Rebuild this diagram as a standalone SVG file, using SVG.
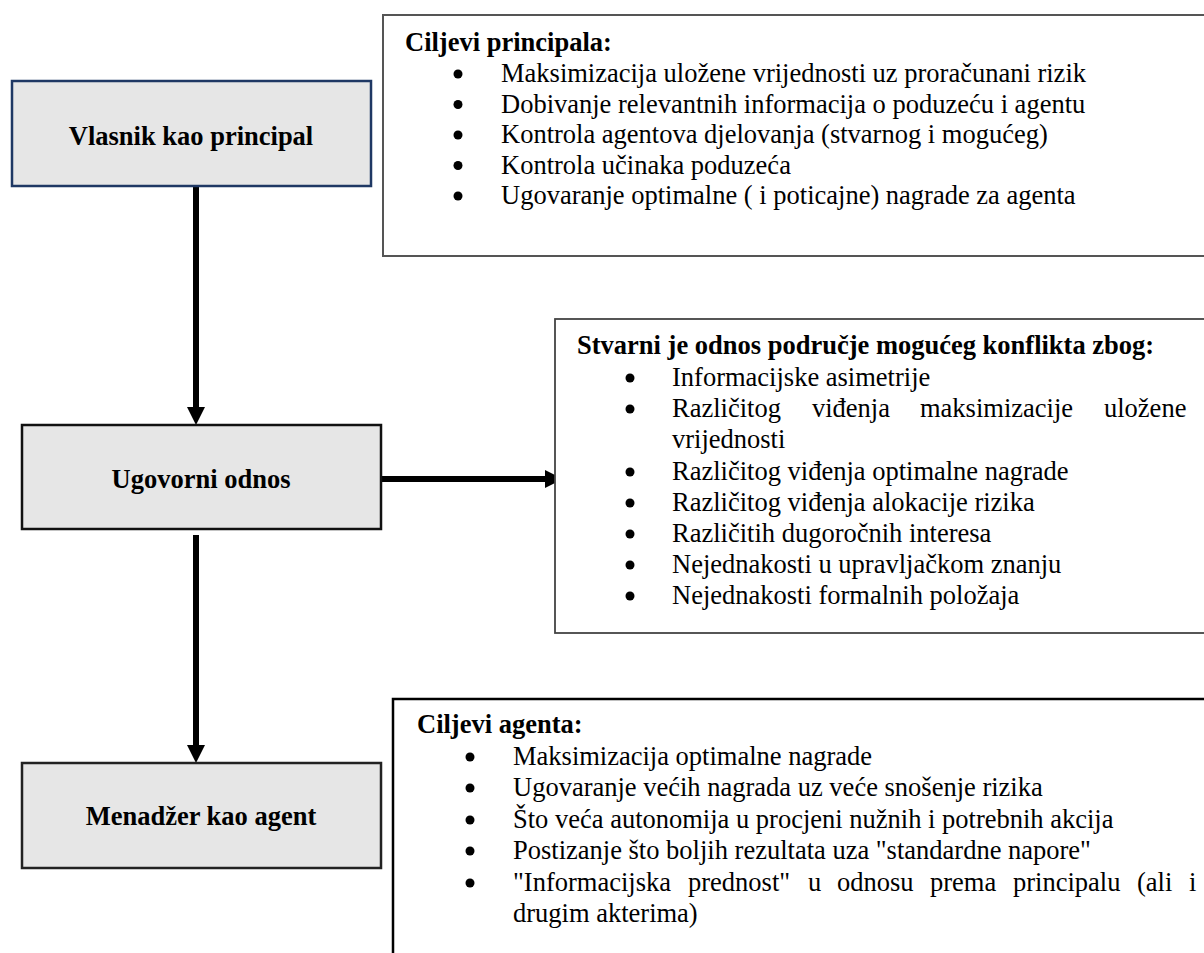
<svg xmlns="http://www.w3.org/2000/svg" width="1204" height="953" viewBox="0 0 1204 953">
<defs>
<style>
.t{font-family:"Liberation Serif","Times New Roman",serif;font-size:26.5px;fill:#000}
.b{font-weight:bold}
.c{text-anchor:middle}
.node{fill:#e6e6e6}
.conn{stroke:#000;stroke-width:6;fill:none}
.bul{fill:#000}
</style>
<marker id="ah" viewBox="0 0 10 10" refX="0" refY="5" markerWidth="3" markerHeight="3" markerUnits="strokeWidth" orient="auto">
<path d="M0,0 L10,5 L0,10 Z" fill="#000"/>
</marker>
</defs>
<rect width="1204" height="953" fill="#fff"/>

<g id="connectors">
<line class="conn" x1="196" y1="187" x2="196" y2="407" marker-end="url(#ah)"/>
<line class="conn" x1="376" y1="479" x2="545" y2="479" marker-end="url(#ah)"/>
<line class="conn" x1="196" y1="535" x2="196" y2="745" marker-end="url(#ah)"/>
</g>

<g id="node-vlasnik">
<rect class="node" x="12" y="81" width="359" height="105" stroke="#1f3864" stroke-width="2.5"/>
<text class="t b c" x="191" y="145">Vlasnik kao principal</text>
</g>

<g id="node-ugovorni">
<rect class="node" x="22" y="425" width="359" height="104" stroke="#111" stroke-width="2.5"/>
<text class="t b c" x="201" y="488">Ugovorni odnos</text>
</g>

<g id="node-menadzer">
<rect class="node" x="22" y="763" width="359" height="105" stroke="#222" stroke-width="2.5"/>
<text class="t b c" x="201" y="825">Menadžer kao agent</text>
</g>

<g id="note-principal">
<rect x="383" y="15" width="840" height="241" fill="#fff" stroke="#555" stroke-width="2"/>
<text class="t b" x="405" y="51">Ciljevi principala:</text>
<g class="bul">
<circle cx="458" cy="74" r="4.5"/><circle cx="458" cy="104.5" r="4.5"/><circle cx="458" cy="135" r="4.5"/><circle cx="458" cy="165.5" r="4.5"/><circle cx="458" cy="196" r="4.5"/>
</g>
<text class="t" x="501" y="82">Maksimizacija uložene vrijednosti uz proračunani rizik</text>
<text class="t" x="501" y="112.5">Dobivanje relevantnih informacija o poduzeću i agentu</text>
<text class="t" x="501" y="143">Kontrola agentova djelovanja (stvarnog i mogućeg)</text>
<text class="t" x="501" y="173.5">Kontrola učinaka poduzeća</text>
<text class="t" x="501" y="204">Ugovaranje optimalne ( i poticajne) nagrade za agenta</text>
</g>

<g id="note-konflikt">
<rect x="555" y="319" width="680" height="314" fill="#fff" stroke="#444" stroke-width="1.8"/>
<text class="t b" x="577" y="354">Stvarni je odnos područje mogućeg konflikta zbog:</text>
<g class="bul">
<circle cx="630" cy="378" r="4.5"/><circle cx="630" cy="409" r="4.5"/><circle cx="630" cy="472" r="4.5"/><circle cx="630" cy="503" r="4.5"/><circle cx="630" cy="534" r="4.5"/><circle cx="630" cy="565" r="4.5"/><circle cx="630" cy="596" r="4.5"/>
</g>
<text class="t" x="672" y="386">Informacijske asimetrije</text>
<text class="t" y="417"><tspan x="672">Različitog</tspan><tspan x="812">viđenja</tspan><tspan x="920">maksimizacije</tspan><tspan x="1104">uložene</tspan></text>
<text class="t" x="672" y="448">vrijednosti</text>
<text class="t" x="672" y="480">Različitog viđenja optimalne nagrade</text>
<text class="t" x="672" y="511">Različitog viđenja alokacije rizika</text>
<text class="t" x="672" y="542">Različitih dugoročnih interesa</text>
<text class="t" x="672" y="573">Nejednakosti u upravljačkom znanju</text>
<text class="t" x="672" y="604">Nejednakosti formalnih položaja</text>
</g>

<g id="note-agent">
<rect x="393" y="699" width="840" height="290" fill="#fff" stroke="#000" stroke-width="2.5"/>
<text class="t b" x="417" y="733">Ciljevi agenta:</text>
<g class="bul">
<circle cx="470" cy="757" r="4.5"/><circle cx="470" cy="788" r="4.5"/><circle cx="470" cy="820" r="4.5"/><circle cx="470" cy="851" r="4.5"/><circle cx="470" cy="883" r="4.5"/>
</g>
<text class="t" x="513" y="765">Maksimizacija optimalne nagrade</text>
<text class="t" x="513" y="796">Ugovaranje većih nagrada uz veće snošenje rizika</text>
<text class="t" x="513" y="828">Što veća autonomija u procjeni nužnih i potrebnih akcija</text>
<text class="t" x="513" y="859">Postizanje što boljih rezultata uza "standardne napore"</text>
<text class="t" y="891"><tspan x="513">"Informacijska</tspan><tspan x="688">prednost"</tspan><tspan x="808">u</tspan><tspan x="837">odnosu</tspan><tspan x="930">prema</tspan><tspan x="1013">principalu</tspan><tspan x="1137">(ali</tspan><tspan x="1189">i</tspan></text>
<text class="t" x="513" y="922">drugim akterima)</text>
</g>
</svg>
